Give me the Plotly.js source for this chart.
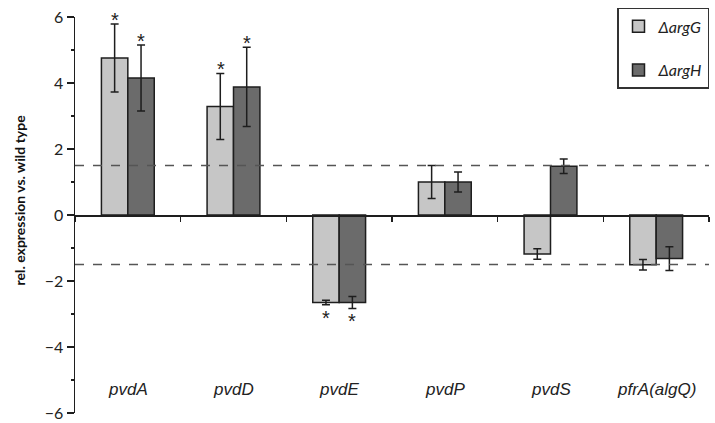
<!DOCTYPE html>
<html>
<head>
<meta charset="utf-8">
<script src="https://cdn.plot.ly/plotly-3.0.1.min.js"></script>
<style>html,body{margin:0;padding:0;background:#fff;}#chart{width:715px;height:423px;}</style>
</head>
<body>
<div id="chart"></div>
<script>
const genes = ["pvdA", "pvdD", "pvdE", "pvdP", "pvdS", "pfrA(algQ)"];
const argG = [4.76, 3.29, -2.65, 1.0, -1.18, -1.51];
const argGErr = [1.03, 1.0, 0.07, 0.5, 0.16, 0.16];
const argH = [4.15, 3.88, -2.65, 1.0, 1.48, -1.32];
const argHErr = [1.0, 1.2, 0.18, 0.3, 0.22, 0.36];
const sigG = [true, true, true, false, false, false];
const sigH = [true, true, true, false, false, false];
const thresholds = [1.5, -1.5];
const yTicks = [-6, -4, -2, 0, 2, 4, 6];
const labelLevel = -5.28;
const yTitle = "rel. expression vs. wild type";

const lineColor = "#1e1e1e";
const traces = [
  {type: "bar", name: "<i>ΔargG</i>", x: genes, y: argG, legendgroup: "g",
   marker: {color: "#c6c6c6", line: {color: lineColor, width: 1.5}},
   error_y: {type: "data", array: argGErr, visible: true, color: lineColor, thickness: 1.5, width: 4}},
  {type: "bar", name: "<i>ΔargH</i>", x: genes, y: argH, legendgroup: "h",
   marker: {color: "#6b6b6b", line: {color: lineColor, width: 1.5}},
   error_y: {type: "data", array: argHErr, visible: true, color: lineColor, thickness: 1.5, width: 4}}
];

const annotations = [];
genes.forEach((g, i) => {
  annotations.push({x: g, y: labelLevel, xref: "x", yref: "y", text: "<i>" + g + "</i>", showarrow: false,
    font: {family: "Liberation Sans, Arial, sans-serif", size: 17, color: "#222"}});
  [[argG, argGErr, sigG, -13], [argH, argHErr, sigH, 13]].forEach(([vals, errs, sig, shift]) => {
    if (!sig[i]) return;
    const v = vals[i], e = errs[i];
    const up = v >= 0;
    annotations.push({x: g, y: up ? v + e : v - e, xref: "x", yref: "y", text: "*", showarrow: false,
      xshift: shift, yanchor: up ? "bottom" : "top", yshift: up ? -9 : 0,
      font: {family: "Liberation Sans, Arial, sans-serif", size: 20, color: "#222"}});
  });
});
annotations.push({xref: "paper", yref: "paper", x: -0.0875, y: 0.538, xanchor: "center", yanchor: "middle",
  text: "<b>" + yTitle + "</b>", textangle: -90, showarrow: false,
  font: {family: "Lato, Liberation Sans, sans-serif", size: 14, color: "#111"}});

const shapes = thresholds.map(t => ({type: "line", xref: "paper", yref: "y", x0: 0, x1: 1, y0: t, y1: t,
  line: {color: "#555", width: 1.5, dash: "dash"}, layer: "above"}));

const layout = {
  width: 715, height: 423,
  margin: {l: 75, r: 6, t: 17, b: 10},
  paper_bgcolor: "#fff", plot_bgcolor: "#fff",
  barmode: "group", bargap: 0.5, bargroupgap: 0,
  font: {family: "Liberation Sans, Arial, sans-serif", color: "#222"},
  xaxis: {type: "category", anchor: "free", position: 0.5, showline: true, linecolor: lineColor, linewidth: 1.5,
    ticks: "outside", tickson: "boundaries", ticklen: 5, tickcolor: lineColor, tickwidth: 1.5,
    showticklabels: false, showgrid: false, zeroline: false, range: [-0.5, 5.5]},
  yaxis: {range: [-6, 6], tickvals: yTicks, showline: true, linecolor: lineColor, linewidth: 1.5,
    ticks: "outside", ticklen: 7, tickcolor: lineColor, tickwidth: 1.5, showgrid: false, zeroline: false,
    tickfont: {family: "Lato, Liberation Sans, sans-serif", size: 16, color: "#222"},
    minor: {dtick: 1, ticks: "outside", ticklen: 3, tickcolor: lineColor, tickwidth: 1.5}},
  legend: {x: 1, xanchor: "right", y: 1.023, yanchor: "top", bordercolor: "#333", borderwidth: 1.5,
    bgcolor: "#fff", font: {family: "Lato, Liberation Sans, sans-serif", size: 16, color: "#222"},
    tracegroupgap: 20},
  shapes: shapes,
  annotations: annotations,
  showlegend: true
};

Plotly.newPlot("chart", traces, layout, {displayModeBar: false, staticPlot: true});
</script>
</body>
</html>
